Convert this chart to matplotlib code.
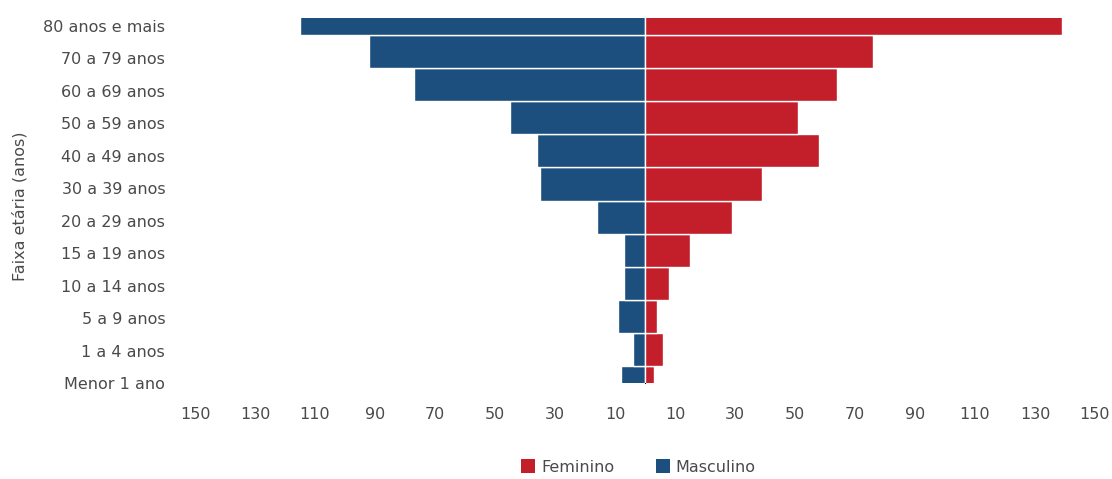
import matplotlib
matplotlib.use("Agg")
import matplotlib.pyplot as plt
from matplotlib.patches import Patch
import numpy as np

# Age groups, from youngest to oldest
faixas = ["Menor 1 ano", "1 a 4 anos", "5 a 9 anos", "10 a 14 anos", "15 a 19 anos",
          "20 a 29 anos", "30 a 39 anos", "40 a 49 anos", "50 a 59 anos",
          "60 a 69 anos", "70 a 79 anos", "80 anos e mais"]
masculino = [8, 4, 9, 7, 7, 16, 35, 36, 45, 77, 92, 115]
feminino = [3, 6, 4, 8, 15, 29, 39, 58, 51, 64, 76, 139]

xticks = [-150, -130, -110, -90, -70, -50, -30, -10, 10, 30, 50, 70, 90, 110, 130, 150]
xticklabels = [str(abs(v)) for v in xticks]

cor_masc = "#1c4f7d"
cor_fem = "#c21f2b"
cor_texto = "#4a4a4a"

plt.rcParams["font.family"] = ["DejaVu Sans"]
fs = 11.5

fig = plt.figure(figsize=(11.12, 4.79), dpi=100)
ax = fig.add_axes([0.1754, 0.2004, 0.8093, 0.762])

y = np.arange(len(faixas))
ax.barh(y, [-v for v in masculino], height=1.0, color=cor_masc,
        edgecolor="white", linewidth=1.0)
ax.barh(y, feminino, height=1.0, color=cor_fem,
        edgecolor="white", linewidth=1.0)

ax.set_xlim(-150, 150)
ax.set_ylim(0, len(faixas) - 1)

ax.set_xticks(xticks)
ax.set_xticklabels(xticklabels, fontsize=fs, color=cor_texto)
ax.tick_params(axis="x", length=0, pad=17)

ax.set_yticks([])

for s in ax.spines.values():
    s.set_visible(False)

# category labels on a slightly compressed left scale
k = 1.0215
labels_ax = ax.secondary_yaxis("left", functions=(lambda v: v * k, lambda v: v / k))
labels_ax.set_yticks(y)
labels_ax.set_yticklabels(faixas, fontsize=fs, color=cor_texto)
labels_ax.tick_params(axis="y", length=0, pad=21.5)
labels_ax.spines["left"].set_visible(False)

# white center axis with short tick dashes
center = ax.secondary_yaxis(0.5)
center.set_yticks(y)
center.set_yticklabels([])
center.tick_params(axis="y", direction="out", length=5, width=1.2, color="white")
center.spines["left"].set_color("white")
center.spines["left"].set_linewidth(1.5)

fig.text(0.018, 0.57, "Faixa etária (anos)", rotation=90, ha="center", va="center",
         fontsize=fs, color=cor_texto)

handles = [Patch(facecolor=cor_fem, label="Feminino"),
           Patch(facecolor=cor_masc, label="Masculino")]
leg = fig.legend(handles=handles, loc="center", bbox_to_anchor=(0.574, 0.025),
                 ncol=2, frameon=False, fontsize=fs, handlelength=0.9,
                 handleheight=0.9, handletextpad=0.35, columnspacing=2.6)
for t in leg.get_texts():
    t.set_color(cor_texto)

fig.savefig("out.png", dpi=100, facecolor="white")
